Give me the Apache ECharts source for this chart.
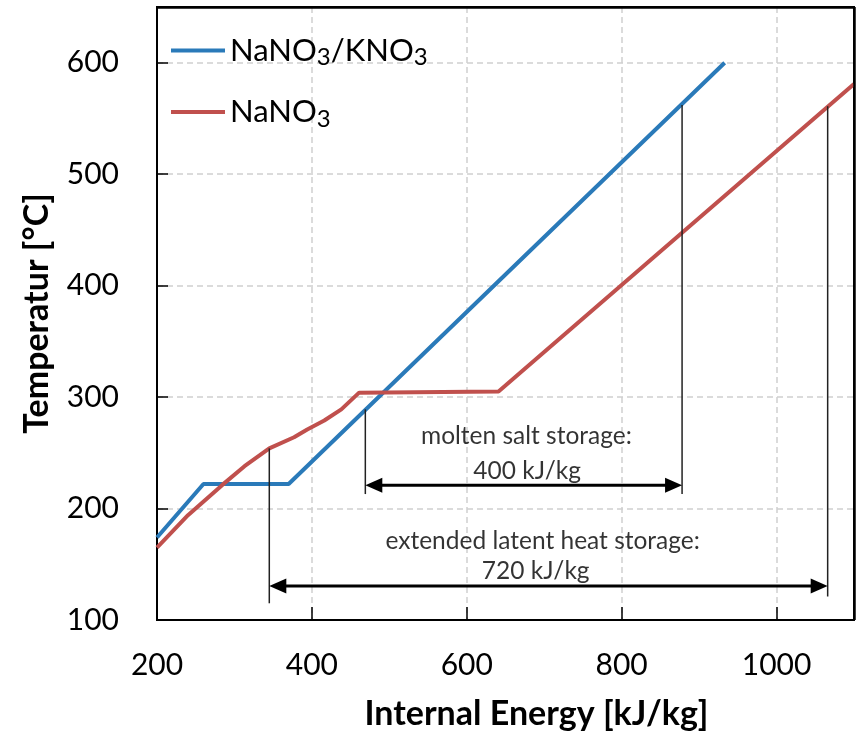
<!DOCTYPE html>
<html>
<head>
<meta charset="utf-8">
<script src="https://cdn.jsdelivr.net/npm/echarts@6/dist/echarts.min.js"></script>
<style>html,body{margin:0;padding:0;background:#fff}#c{width:856px;height:736px}</style>
</head>
<body>
<div id="c"></div>
<script>
// ---- data ----
const seriesNames = ['NaNO3/KNO3', 'NaNO3'];
const energyNaKNO3 = [200, 260, 370, 933];
const tempNaKNO3 = [174, 222, 222, 600];
const energyNaNO3 = [200, 240, 284, 313, 345, 377, 394, 416, 438, 461, 641, 1100];
const tempNaNO3 = [165, 194, 221, 238, 254, 264, 271, 279, 289, 304, 305, 581];

const guideX = [345, 469, 878, 1066];
const guideTop = [254, 289, 562, 561];
const guideBottom = [115, 213, 213, 121];

const arrowFrom = [469, 345];
const arrowTo = [878, 1066];
const arrowY = [220.8, 130.4];

const noteTexts = ['molten salt storage:', '400 kJ/kg', 'extended latent heat storage:', '720 kJ/kg'];
const noteX = [677, 678, 698, 689];
const noteY = [265, 234, 170.5, 144];

const xRange = [200, 1100];
const yRange = [100, 650];
const xTicks = [200, 400, 600, 800, 1000];
const yTicks = [100, 200, 300, 400, 500, 600];

const FONT = 'Lato';
const colors = ['#2a7ab9', '#c0504d'];

const chart = echarts.init(document.getElementById('c'), null, {renderer: 'canvas'});

const subFmt = name => name.replace(/3/g, '{s|3}');

function renderGuide(params, api) {
  const p1 = api.coord([api.value(0), api.value(1)]);
  const p2 = api.coord([api.value(0), api.value(2)]);
  return {type: 'line', shape: {x1: p1[0], y1: p1[1], x2: p2[0], y2: p2[1]},
    style: {stroke: '#222', lineWidth: 1.5}};
}
function renderArrow(params, api) {
  const a = api.coord([api.value(0), api.value(2)]);
  const b = api.coord([api.value(1), api.value(2)]);
  const L = 17, W = 7.5, y = a[1];
  return {type: 'group', children: [
    {type: 'line', shape: {x1: a[0] + L - 2, y1: y, x2: b[0] - L + 2, y2: y}, style: {stroke: '#000', lineWidth: 3}},
    {type: 'polygon', shape: {points: [[a[0], y], [a[0] + L, y - W], [a[0] + L, y + W]]}, style: {fill: '#000'}},
    {type: 'polygon', shape: {points: [[b[0], y], [b[0] - L, y - W], [b[0] - L, y + W]]}, style: {fill: '#000'}}
  ]};
}

const frameStyle = {width: 2.5, color: '#000', type: 'solid'};

chart.setOption({
  animation: false,
  backgroundColor: '#fff',
  grid: {left: 157, right: 2, top: 7, bottom: 114, containLabel: false,
    show: true, borderColor: '#000', borderWidth: 2},
  legend: {
    orient: 'vertical', left: 166, top: 30, itemGap: 27,
    icon: 'rect', itemWidth: 54, itemHeight: 4,
    data: seriesNames,
    formatter: subFmt,
    textStyle: {
      fontFamily: FONT, fontSize: 31, color: '#000',
      rich: {s: {fontFamily: FONT, fontSize: 24, color: '#000', padding: [14, 0, 0, 0]}}
    }
  },
  xAxis: {
    type: 'value', min: xRange[0], max: xRange[1], interval: 200,
    name: 'Internal Energy [kJ/kg]', nameLocation: 'middle', nameGap: 77,
    nameTextStyle: {fontFamily: FONT, fontSize: 34, fontWeight: 'bold', color: '#000', padding: [0, 0, 0, 62]},
    axisLine: {show: true, onZero: false, lineStyle: {color: '#000', width: 2}},
    axisTick: {show: true, inside: true, length: 13, lineStyle: {color: '#000', width: 1.5}},
    axisLabel: {fontFamily: FONT, fontSize: 30, color: '#000', margin: 30, showMaxLabel: false,
      formatter: v => xTicks.indexOf(v) >= 0 ? String(v) : ''},
    splitLine: {show: true, showMinLine: false, showMaxLine: false, lineStyle: {color: '#cfcfcf', width: 1.5, type: [6, 4]}}
  },
  yAxis: {
    type: 'value', min: yRange[0], max: yRange[1], interval: 100,
    name: 'Temperatur [°C]', nameLocation: 'middle', nameGap: 103, nameRotate: 90,
    nameTextStyle: {fontFamily: FONT, fontSize: 34, fontWeight: 'bold', color: '#000'},
    axisLine: {show: true, onZero: false, lineStyle: {color: '#000', width: 2}},
    axisTick: {show: true, inside: true, length: 11, lineStyle: {color: '#000', width: 1.5}},
    axisLabel: {fontFamily: FONT, fontSize: 30, color: '#000', margin: 38, showMaxLabel: false,
      formatter: v => yTicks.indexOf(v) >= 0 ? String(v) : ''},
    splitLine: {show: true, showMinLine: false, showMaxLine: false, lineStyle: {color: '#cfcfcf', width: 1.5, type: [6, 4]}}
  },
  series: [
    {
      name: seriesNames[0], type: 'line', symbol: 'none', z: 3,
      itemStyle: {color: colors[0]},
      lineStyle: {width: 4, color: colors[0]},
      data: energyNaKNO3.map((x, i) => [x, tempNaKNO3[i]])
    },
    {
      name: seriesNames[1], type: 'line', symbol: 'none', z: 3,
      itemStyle: {color: colors[1]},
      lineStyle: {width: 4, color: colors[1]},
      data: energyNaNO3.map((x, i) => [x, tempNaNO3[i]])
    },
    {
      name: 'guides', type: 'custom', z: 4, silent: true,
      renderItem: renderGuide,
      encode: {x: [0], y: [1, 2]},
      data: guideX.map((x, i) => [x, guideTop[i], guideBottom[i]])
    },
    {
      name: 'arrows', type: 'custom', z: 4, silent: true,
      renderItem: renderArrow,
      encode: {x: [0, 1], y: [2]},
      data: arrowFrom.map((x, i) => [x, arrowTo[i], arrowY[i]])
    },
    {
      name: 'notes', type: 'scatter', symbolSize: 0, z: 5, silent: true,
      data: noteTexts.map((t, i) => [noteX[i], noteY[i], t]),
      label: {show: true, position: 'inside', formatter: p => p.data[2],
        fontFamily: FONT, fontSize: 24.5, color: '#000'},
      markLine: {
        silent: true, animation: false, symbol: ['none', 'none'],
        label: {show: false}, emphasis: {disabled: true},
        lineStyle: frameStyle,
        data: [
          [{coord: [xRange[0], yRange[1]], lineStyle: frameStyle}, {coord: [xRange[1], yRange[1]]}],
          [{coord: [xRange[1], yRange[1]], lineStyle: frameStyle}, {coord: [xRange[1], yRange[0]]}]
        ]
      }
    }
  ]
});
</script>
</body>
</html>
